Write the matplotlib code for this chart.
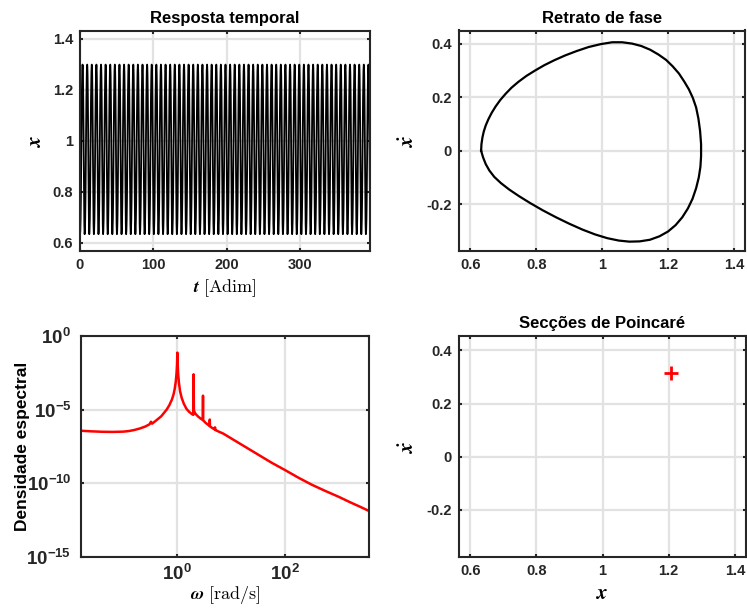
import numpy as np
import matplotlib
matplotlib.use('Agg')
import matplotlib.pyplot as plt
from matplotlib.ticker import FixedLocator, FuncFormatter, NullLocator

# ---- data ----
# one cycle of the limit cycle (x, xdot), clockwise from the leftmost point
loop_x = [0.633, 0.634, 0.637, 0.641, 0.647, 0.655, 0.665, 0.677, 0.691, 0.707,
          0.725, 0.746, 0.770, 0.796, 0.824, 0.855, 0.888, 0.922, 0.958, 0.995,
          1.030, 1.060, 1.090, 1.118, 1.145, 1.170, 1.193, 1.213, 1.232, 1.248,
          1.262, 1.274, 1.284, 1.291, 1.296, 1.299, 1.299, 1.297, 1.292, 1.284,
          1.273, 1.259, 1.242, 1.222, 1.199, 1.173, 1.144, 1.113, 1.082, 1.050,
          1.015, 0.978, 0.940, 0.900, 0.860, 0.820, 0.782, 0.748, 0.718, 0.693,
          0.673, 0.658, 0.647, 0.639, 0.633]
loop_xdot = [0.000, 0.025, 0.050, 0.072, 0.095, 0.118, 0.142, 0.166, 0.190, 0.213,
             0.236, 0.258, 0.280, 0.300, 0.320, 0.339, 0.357, 0.373, 0.388, 0.399,
             0.406, 0.406, 0.401, 0.392, 0.378, 0.360, 0.340, 0.316, 0.289, 0.259,
             0.230, 0.198, 0.162, 0.120, 0.074, 0.025, -0.020, -0.060, -0.100, -0.140,
             -0.180, -0.216, -0.249, -0.278, -0.302, -0.320, -0.333, -0.339, -0.340, -0.336,
             -0.327, -0.313, -0.295, -0.273, -0.249, -0.223, -0.196, -0.170, -0.145, -0.121,
             -0.098, -0.074, -0.050, -0.025, 0.000]

period = 6.28      # length of one cycle in the time response
t_end = 395        # end of the simulated time

# spectral density, log10(omega) and log10(S)
spec_logw = [-1.79, -1.6, -1.4, -1.2, -1.0, -0.9, -0.8, -0.7, -0.6, -0.52,
             -0.49, -0.47, -0.4, -0.3, -0.2, -0.15, -0.1, -0.07, -0.05, -0.03,
             -0.015, -0.006, 0.0, 0.006, 0.015, 0.03, 0.05, 0.08, 0.12, 0.17,
             0.22, 0.27, 0.295, 0.299, 0.301, 0.303, 0.307, 0.33, 0.38, 0.43,
             0.472, 0.476, 0.479, 0.52, 0.56, 0.600, 0.602, 0.605, 0.65, 0.698,
             0.699, 0.701, 0.75, 0.85, 1.0, 1.25, 1.5, 1.75, 2.0, 2.25,
             2.5, 2.75, 3.0, 3.2, 3.4, 3.55]
spec_logS = [-6.43, -6.47, -6.50, -6.51, -6.49, -6.45, -6.38, -6.28, -6.15, -6.00,
             -5.82, -5.95, -5.75, -5.45, -5.00, -4.70, -4.30, -3.95, -3.60, -3.10,
             -2.50, -1.90, -1.13, -1.90, -2.60, -3.20, -3.75, -4.20, -4.60, -4.95,
             -5.15, -5.30, -5.35, -3.50, -2.60, -3.50, -5.05, -5.25, -5.45, -5.60,
             -5.70, -4.05, -5.72, -5.88, -6.00, -6.10, -5.67, -6.13, -6.25, -6.35,
             -6.20, -6.37, -6.46, -6.62, -6.95, -7.50, -8.05, -8.60, -9.10, -9.62,
             -10.10, -10.52, -10.92, -11.27, -11.60, -11.86]

# Poincare section
poinc_x = [1.206]
poinc_xdot = [0.315]

# ---- style ----
plt.rcParams['font.family'] = ['Liberation Sans', 'DejaVu Sans']
plt.rcParams['font.weight'] = 'bold'
plt.rcParams['mathtext.fontset'] = 'custom'
plt.rcParams['mathtext.rm'] = 'Liberation Sans:bold'
plt.rcParams['mathtext.it'] = 'Liberation Sans:bold:italic'
plt.rcParams['mathtext.bf'] = 'Liberation Sans:bold'

DARK = '#262626'
GRID = '#e2e2e2'


def style(ax, fs, pad=5):
    ax.set_axisbelow(True)
    ax.grid(True, color=GRID, linewidth=1.6)
    for s in ax.spines.values():
        s.set_linewidth(1.5)
        s.set_color(DARK)
    ax.tick_params(which='both', direction='in', top=True, right=True,
                   length=2.5, width=1.5, color=DARK, labelcolor=DARK,
                   labelsize=fs, pad=pad)


def fmt(v, p):
    return f'{v:g}'


def pow10(v, p):
    return r'$10^{%d}$' % round(np.log10(v))


fig = plt.figure(figsize=(7.47, 6.15), dpi=100)
W, H = 747.0, 615.0


def add(l, r, t, b):
    return fig.add_axes([l / W, 1 - b / H, (r - l) / W, (b - t) / H])


ax1 = add(80, 370, 30.5, 251)
ax2 = add(459, 745, 30.5, 251)
ax3 = add(81, 368.5, 336, 557)
ax4 = add(459, 745.5, 336, 557)

TICK = 10.5
LAB = 13
XLAB = 15   # single letter x / xdot labels

# time response
cyc = np.array(loop_x[:-1])
n_cyc = int(np.ceil(t_end / period)) + 1
x_ts = np.tile(cyc, n_cyc)
t_ts = np.arange(x_ts.size) * period / cyc.size
keep = t_ts <= t_end
ax1.plot(t_ts[keep], x_ts[keep], color='black', linewidth=1.3)
ax1.set_xlim(0, t_end)
ax1.set_ylim(0.567, 1.433)
ax1.xaxis.set_major_locator(FixedLocator([0, 100, 200, 300]))
ax1.yaxis.set_major_locator(FixedLocator([0.6, 0.8, 1.0, 1.2, 1.4]))
ax1.yaxis.set_major_formatter(FuncFormatter(fmt))
style(ax1, TICK)
ax1.set_title('Resposta temporal', fontsize=12, fontweight='bold', pad=5.5)
ax1.set_xlabel(r'$\mathbfit{t}$ $\mathrm{[Adim]}$', fontsize=LAB, math_fontfamily='cm')
ax1.xaxis.set_label_coords(0.5, -0.12)
ax1.set_ylabel(r'$\mathbfit{x}$', fontsize=XLAB, math_fontfamily='stix')
ax1.yaxis.set_label_coords(-0.119, 0.5)

# phase portrait
ax2.plot(loop_x, loop_xdot, color='black', linewidth=1.6)
ax2.set_xlim(0.566, 1.432)
ax2.set_ylim(-0.375, 0.45)
ax2.xaxis.set_major_locator(FixedLocator([0.6, 0.8, 1.0, 1.2, 1.4]))
ax2.yaxis.set_major_locator(FixedLocator([-0.2, 0.0, 0.2, 0.4]))
ax2.xaxis.set_major_formatter(FuncFormatter(fmt))
ax2.yaxis.set_major_formatter(FuncFormatter(fmt))
style(ax2, TICK)
ax2.set_title('Retrato de fase', fontsize=12, fontweight='bold', pad=5.5)
ax2.set_ylabel(r'$\dot{\mathbfit{x}}$', fontsize=XLAB, math_fontfamily='stix')
ax2.yaxis.set_label_coords(-0.143, 0.5)

# spectrum
w = 10 ** np.array(spec_logw)
S = 10 ** np.array(spec_logS)
ax3.loglog(w, S, color='red', linewidth=1.8)
ax3.set_xlim(10 ** -1.79, 10 ** 3.55)
ax3.set_ylim(1e-15, 1e0)
ax3.xaxis.set_major_locator(FixedLocator([1e0, 1e2]))
ax3.yaxis.set_major_locator(FixedLocator([1e-15, 1e-10, 1e-5, 1e0]))
ax3.xaxis.set_minor_locator(NullLocator())
ax3.yaxis.set_minor_locator(NullLocator())
ax3.xaxis.set_major_formatter(FuncFormatter(pow10))
ax3.yaxis.set_major_formatter(FuncFormatter(pow10))
style(ax3, 13.5)
ax3.tick_params(axis='y', pad=7)
ax3.set_xlabel(r'$\mathbfit{\omega}$ $\mathrm{[rad/s]}$', fontsize=LAB, math_fontfamily='cm')
ax3.xaxis.set_label_coords(0.5, -0.12)
ax3.set_ylabel('Densidade espectral', fontsize=12.5, fontweight='bold')
ax3.yaxis.set_label_coords(-0.178, 0.5)

# Poincare sections
ax4.plot(poinc_x, poinc_xdot, linestyle='none', marker='+', color='red',
         markersize=10, markeredgewidth=2)
ax4.set_xlim(0.566, 1.432)
ax4.set_ylim(-0.377, 0.454)
ax4.xaxis.set_major_locator(FixedLocator([0.6, 0.8, 1.0, 1.2, 1.4]))
ax4.yaxis.set_major_locator(FixedLocator([-0.2, 0.0, 0.2, 0.4]))
ax4.xaxis.set_major_formatter(FuncFormatter(fmt))
ax4.yaxis.set_major_formatter(FuncFormatter(fmt))
style(ax4, TICK)
ax4.set_title('Secções de Poincaré', fontsize=12, fontweight='bold', pad=5.5)
ax4.set_xlabel(r'$\mathbfit{x}$', fontsize=XLAB, math_fontfamily='stix')
ax4.xaxis.set_label_coords(0.5, -0.12)
ax4.set_ylabel(r'$\dot{\mathbfit{x}}$', fontsize=XLAB, math_fontfamily='stix')
ax4.yaxis.set_label_coords(-0.143, 0.5)

fig.savefig('out.png', dpi=100)
